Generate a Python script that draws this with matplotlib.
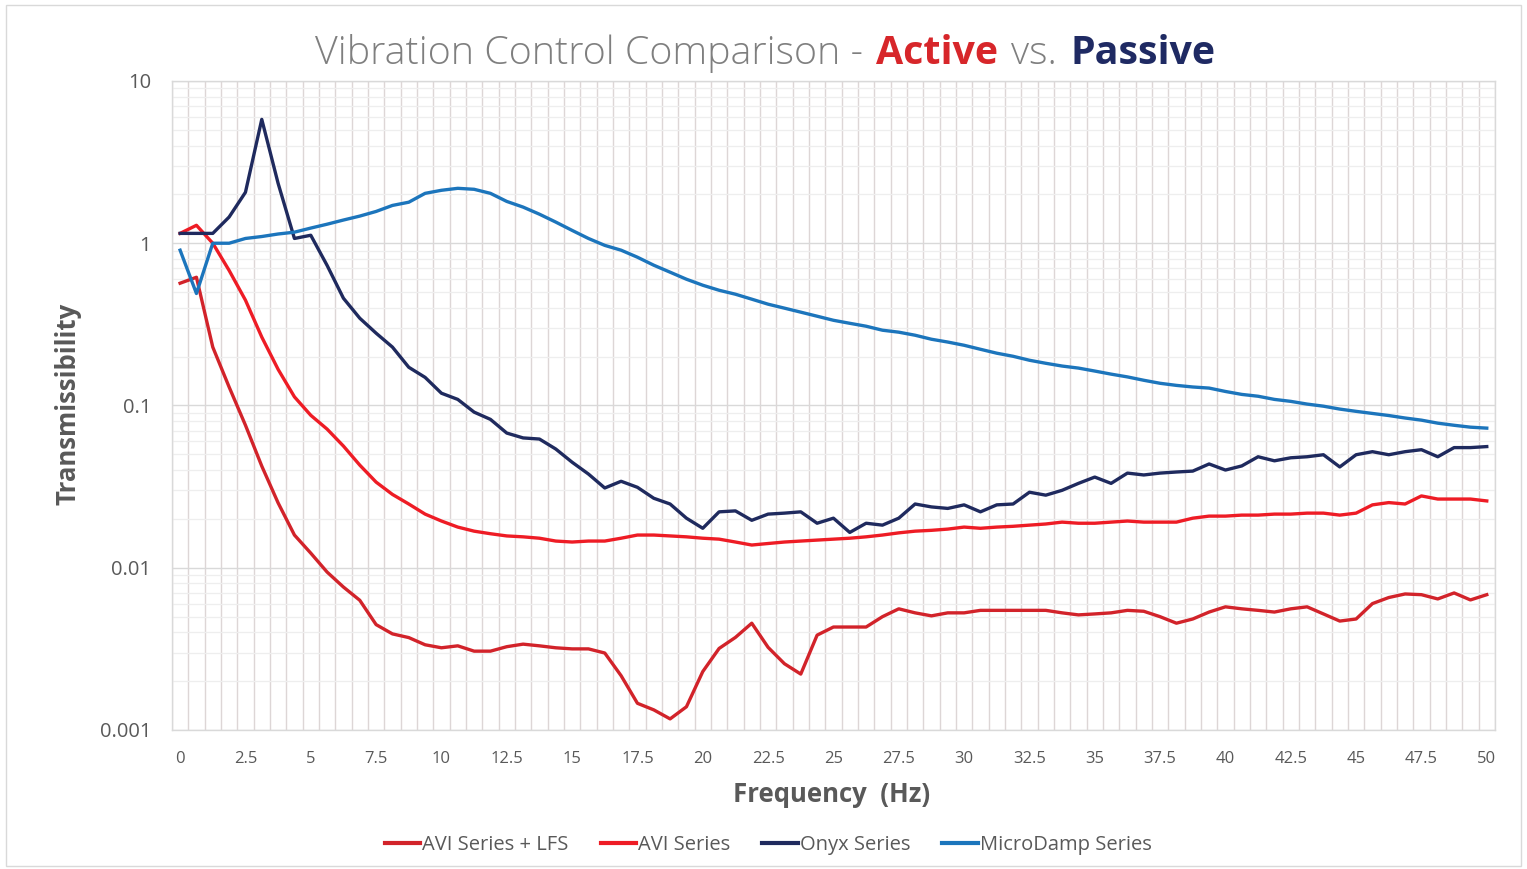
import numpy as np
import matplotlib
matplotlib.use("Agg")
import matplotlib.pyplot as plt
from matplotlib.ticker import FixedLocator, LogLocator, NullFormatter
import matplotlib.patches as patches

plt.rcParams['font.family'] = ['Open Sans', 'DejaVu Sans']

# frequency axis: 81 points, 0.625 Hz apart
freq = np.arange(81) * 0.625

avi_lfs = [0.567, 0.617, 0.229, 0.130, 0.0756, 0.0423, 0.0251, 0.0159, 0.0123, 0.0094,
           0.0076, 0.0063, 0.00446, 0.00391, 0.00371, 0.00335, 0.00321, 0.00330, 0.00306, 0.00306,
           0.00326, 0.00338, 0.00330, 0.00321, 0.00316, 0.00316, 0.00298, 0.00216, 0.00146, 0.00133,
           0.00117, 0.00139, 0.00229, 0.00318, 0.00372, 0.00455, 0.00323, 0.00256, 0.00221, 0.00384,
           0.00431, 0.00431, 0.00431, 0.00499, 0.00558, 0.00527, 0.00505, 0.00527, 0.00527, 0.00546,
           0.00546, 0.00546, 0.00546, 0.00546, 0.00527, 0.00512, 0.00519, 0.00527, 0.00546, 0.00539,
           0.00499, 0.00455, 0.00483, 0.00533, 0.00574, 0.00558, 0.00546, 0.00533, 0.00558, 0.00574,
           0.00519, 0.00469, 0.00483, 0.00601, 0.00655, 0.00689, 0.00682, 0.00642, 0.00699, 0.00633,
           0.00682]

avi = [1.15, 1.29, 1.00, 0.68, 0.446, 0.264, 0.167, 0.113, 0.087, 0.0715,
       0.0562, 0.0429, 0.0337, 0.0283, 0.0247, 0.0214, 0.0194, 0.0178, 0.0168, 0.0162,
       0.0157, 0.0155, 0.0152, 0.0146, 0.0144, 0.0146, 0.0146, 0.0152, 0.0159, 0.0159,
       0.0157, 0.0155, 0.0152, 0.0150, 0.0144, 0.0138, 0.0141, 0.0144, 0.0146, 0.0148,
       0.0150, 0.0152, 0.0155, 0.0159, 0.0164, 0.0168, 0.0170, 0.0173, 0.0178, 0.0175,
       0.0178, 0.0180, 0.0183, 0.0186, 0.0191, 0.0188, 0.0188, 0.0191, 0.0194, 0.0191,
       0.0191, 0.0191, 0.0202, 0.0208, 0.0208, 0.0211, 0.0211, 0.0214, 0.0214, 0.0217,
       0.0217, 0.0211, 0.0217, 0.0244, 0.0252, 0.0247, 0.0277, 0.0265, 0.0265, 0.0265,
       0.0258]

onyx = [1.15, 1.15, 1.15, 1.45, 2.06, 5.8, 2.34, 1.07, 1.12, 0.73,
        0.458, 0.345, 0.279, 0.229, 0.172, 0.149, 0.119, 0.109, 0.0910, 0.0821,
        0.0676, 0.0631, 0.0621, 0.0539, 0.0447, 0.0378, 0.0310, 0.0341, 0.0313, 0.0268,
        0.0247, 0.0202, 0.0175, 0.0221, 0.0224, 0.0196, 0.0214, 0.0217, 0.0221, 0.0188,
        0.0202, 0.0165, 0.0188, 0.0183, 0.0202, 0.0247, 0.0237, 0.0232, 0.0244, 0.0221,
        0.0244, 0.0247, 0.0292, 0.0280, 0.0300, 0.0331, 0.0362, 0.0331, 0.0383, 0.0373,
        0.0383, 0.0389, 0.0394, 0.0436, 0.0400, 0.0424, 0.0483, 0.0456, 0.0476, 0.0483,
        0.0497, 0.0418, 0.0497, 0.0519, 0.0497, 0.0519, 0.0534, 0.0483, 0.0550, 0.0550,
        0.0558]

microdamp = [0.906, 0.49, 1.00, 1.00, 1.07, 1.10, 1.14, 1.17, 1.24, 1.31,
             1.39, 1.47, 1.57, 1.71, 1.79, 2.03, 2.12, 2.18, 2.15, 2.03,
             1.81, 1.67, 1.51, 1.35, 1.20, 1.07, 0.97, 0.906, 0.820, 0.732,
             0.663, 0.600, 0.551, 0.513, 0.485, 0.452, 0.421, 0.398, 0.376, 0.355,
             0.335, 0.321, 0.308, 0.291, 0.283, 0.271, 0.256, 0.246, 0.235, 0.222,
             0.210, 0.201, 0.190, 0.182, 0.175, 0.170, 0.163, 0.156, 0.150, 0.143,
             0.137, 0.133, 0.130, 0.128, 0.122, 0.117, 0.114, 0.109, 0.106, 0.102,
             0.099, 0.095, 0.092, 0.0893, 0.0867, 0.0837, 0.0812, 0.0778, 0.0755, 0.0735,
             0.0725]

labels = ['AVI Series + LFS', 'AVI Series', 'Onyx Series', 'MicroDamp Series']
colors = ['#D2232A', '#EE1C25', '#1F2A5E', '#1C75BC']
series = [avi_lfs, avi, onyx, microdamp]

fig = plt.figure(figsize=(15.27, 8.69), dpi=100)
ax = fig.add_axes([0.1126, 0.16, 0.979 - 0.1126, 0.9068 - 0.16])

for y, lab, c in zip(series, labels, colors):
    ax.plot(freq, y, color=c, lw=2.4, label=lab, solid_joinstyle='round', zorder=3)

ax.set_yscale('log')
ax.set_ylim(0.001, 10)
ax.set_xlim(freq[0] - 0.3125, freq[-1] + 0.3125)

# gridlines
ax.yaxis.set_minor_locator(LogLocator(base=10, subs=np.arange(2, 10), numticks=20))
ax.yaxis.set_minor_formatter(NullFormatter())
ax.set_yticks([0.001, 0.01, 0.1, 1, 10])
ax.set_yticklabels(['0.001', '0.01', '0.1', '1', '10'])
ax.grid(True, which='major', axis='y', color='#d9d9d9', lw=1.0, zorder=0)
ax.grid(True, which='minor', axis='y', color='#eeeeee', lw=0.9, zorder=0)

ax.set_xticks(np.arange(0, 50.1, 2.5))
ax.set_xticklabels(['%g' % v for v in np.arange(0, 50.1, 2.5)])
ax.xaxis.set_minor_locator(FixedLocator(np.arange(82) * 0.625 - 0.3125))
ax.grid(True, which='minor', axis='x', color='#ddd6d6', lw=1.0, zorder=0)

ax.tick_params(axis='both', which='both', length=0, colors='#595959')
ax.tick_params(axis='x', pad=15, labelsize=12)
ax.tick_params(axis='y', pad=15, labelsize=14.5)
for s in ax.spines.values():
    s.set_color('#d9d9d9')
    s.set_linewidth(1.0)

W, H = 1527.0, 869.0
ax_l, ax_r, ax_t, ax_b = 172.0, 1495.0, 81.0, 730.0
ax.set_xlabel('Frequency  (Hz)', fontsize=18.5, fontweight='bold', color='#595959', va='center')
ax.xaxis.set_label_coords((832 - ax_l) / (ax_r - ax_l), (ax_b - 795) / (ax_b - ax_t))
ax.set_ylabel('Transmissibility', fontsize=18.5, fontweight='bold', color='#595959', va='center')
ax.yaxis.set_label_coords((68 - ax_l) / (ax_r - ax_l), (ax_b - 404) / (ax_b - ax_t))

leg = fig.legend(loc='center', bbox_to_anchor=(0.503, 0.028), ncol=4, frameon=False,
                 fontsize=14.5, handlelength=1.75, handletextpad=0.1, columnspacing=1.6)
for t in leg.get_texts():
    t.set_color('#595959')
for h in leg.legend_handles:
    h.set_linewidth(3)

# outer chart border
fig.patches.append(patches.Rectangle((0.004, 0.004), 0.992, 0.99, transform=fig.transFigure,
                                     fill=False, edgecolor='#d9d9d9', lw=1.0))

# title made of coloured pieces
parts = [('Vibration Control Comparison -', '#7f7f7f', 'light'),
         ('Active', '#D7262A', 'bold'),
         ('vs.', '#7f7f7f', 'light'),
         ('Passive', '#1F2A63', 'bold')]
fig.canvas.draw()
r = fig.canvas.get_renderer()
texts = []
for s, c, w in parts:
    t = fig.text(0, 0.938, s, color=c, fontweight=w, fontsize=28.4, ha='left', va='center')
    texts.append(t)
widths = [t.get_window_extent(renderer=r).width for t in texts]
gap = 13
total = sum(widths) + gap * (len(widths) - 1)
xpix = 765 - total / 2
for t, w in zip(texts, widths):
    t.set_x(xpix / fig.bbox.width)
    xpix += w + gap

fig.savefig('out.png', dpi=100)
